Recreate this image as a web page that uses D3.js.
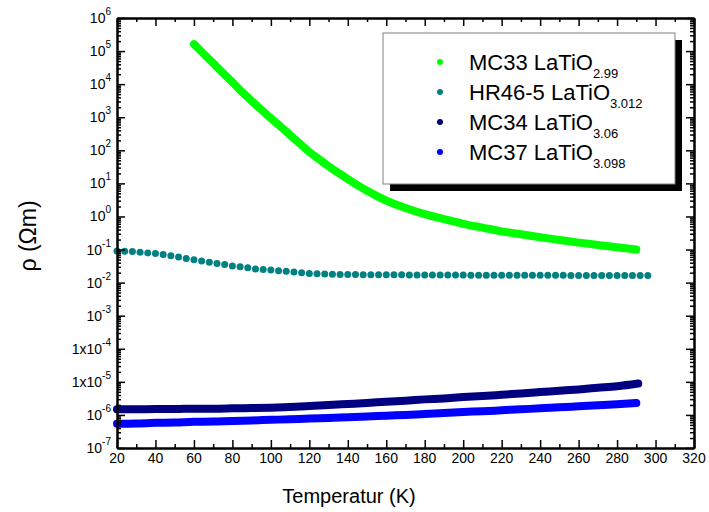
<!DOCTYPE html>
<html><head><meta charset="utf-8">
<script src="https://cdn.jsdelivr.net/npm/d3@7"></script>
<style>body{margin:0;background:#fff}svg{display:block;font-family:Arial,"Liberation Sans",sans-serif}</style>
</head><body><svg id="c" width="709" height="512"></svg>
<script>
const mc33T = [60,65,70,75,80,85,90,95,100,105,110,115,120,125,130,135,140,145,150,155,160,165,170,180,190,200,210,220,230,240,250,260,270,280,290];
const mc33Rho = [1.62e5,8.3e4,4.3e4,2.2e4,1.15e4,5.8e3,3.1e3,1.7e3,930,525,290,160,89,54,33,21,13.5,8.9,6.0,4.2,3.0,2.3,1.8,1.17,0.83,0.60,0.46,0.355,0.29,0.235,0.195,0.162,0.138,0.117,0.100];

const hr46T = [20,24,28,32,36,40,44,48,52,56,60,64,68,72,76,80,84,88,92,96,100,104,108,112,116,120,124,128,132,136,140,144,148,152,156,160,164,168,172,176,180,184,188,192,196,200,204,208,212,216,220,224,228,232,236,240,244,248,252,256,260,264,268,272,276,280,284,288,292,296];
const hr46Rho = [0.091,0.089,0.087,0.083,0.079,0.076,0.071,0.065,0.059,0.054,0.049,0.045,0.041,0.038,0.035,0.032,0.030,0.028,0.026,0.025,0.024,0.023,0.022,0.021,0.020,0.019,0.0186,0.0182,0.0178,0.0177,0.0175,0.0175,0.0174,0.0174,0.0173,0.0173,0.0172,0.0172,0.0171,0.0171,0.0170,0.0170,0.0170,0.0169,0.0169,0.0169,0.0168,0.0168,0.0168,0.0168,0.0167,0.0167,0.0167,0.0167,0.0166,0.0166,0.0166,0.0166,0.0166,0.0165,0.0165,0.0165,0.0165,0.0165,0.0165,0.0165,0.0165,0.0165,0.0165,0.0165];

const mc34T = [20,30,40,50,60,70,80,90,100,110,120,130,140,150,160,170,180,190,200,210,220,230,240,250,260,270,280,291];
const mc34Rho = [1.48e-6,1.48e-6,1.51e-6,1.51e-6,1.55e-6,1.55e-6,1.58e-6,1.62e-6,1.66e-6,1.74e-6,1.86e-6,2.0e-6,2.14e-6,2.29e-6,2.51e-6,2.69e-6,2.95e-6,3.16e-6,3.47e-6,3.72e-6,4.07e-6,4.47e-6,4.9e-6,5.37e-6,5.89e-6,6.6e-6,7.4e-6,8.9e-6];

const mc37T = [20,30,40,50,60,70,80,90,100,110,120,130,140,150,160,170,180,190,200,210,220,230,240,250,260,270,280,290];
const mc37Rho = [5.4e-7,5.5e-7,5.75e-7,5.9e-7,6.2e-7,6.3e-7,6.6e-7,6.8e-7,7.1e-7,7.4e-7,7.8e-7,8.1e-7,8.5e-7,8.9e-7,9.5e-7,1.0e-6,1.07e-6,1.15e-6,1.23e-6,1.29e-6,1.38e-6,1.48e-6,1.58e-6,1.70e-6,1.82e-6,1.95e-6,2.09e-6,2.29e-6];

const xTicks = [20,40,60,80,100,120,140,160,180,200,220,240,260,280,300,320];
const xMinor = [30,50,70,90,110,130,150,170,190,210,230,250,270,290,310];
const yExps = [6,5,4,3,2,1,0,-1,-2,-3,-4,-5,-6,-7];
const yPrefix = ["10","10","10","10","10","10","10","10","10","10","1x10","1x10","10","10"];

const legendNames = ["MC33 LaTiO","HR46-5 LaTiO","MC34 LaTiO","MC37 LaTiO"];
const legendSubs = ["2.99","3.012","3.06","3.098"];
const colors = ["#00ff00","#008080","#000080","#0000ff"];

const L=117,R=694,T=18,B=448;
const x = d3.scaleLinear().domain([20,320]).range([L,R]);
const y = d3.scaleLog().domain([1e-7,1e6]).range([B,T]);
const svg = d3.select("#c");

// data
const line = d3.line().x(d=>x(d[0])).y(d=>y(d[1])).curve(d3.curveMonotoneX);
const thick = [[mc33T,mc33Rho,0],[mc34T,mc34Rho,2],[mc37T,mc37Rho,3]];
thick.forEach(([t,r,ci])=>{
  svg.append("path").datum(t.map((v,i)=>[v,r[i]]))
    .attr("d",line).attr("fill","none").attr("stroke",colors[ci])
    .attr("stroke-width",8).attr("stroke-linecap","round").attr("stroke-linejoin","round");
});
svg.append("g").selectAll("circle").data(hr46T.map((v,i)=>[v,hr46Rho[i]])).join("circle")
  .attr("cx",d=>x(d[0])).attr("cy",d=>y(d[1])).attr("r",3.5).attr("fill",colors[1]);

// axes
const majorY = yExps.map(e=>Math.pow(10,e));
const minorY = [];
for(let e=-7;e<6;e++) for(let k=2;k<10;k++) minorY.push(k*Math.pow(10,e));
function ax(gen, tx, ty){ const g=svg.append("g").attr("transform",`translate(${tx},${ty})`).call(gen);
  g.selectAll("text").remove(); g.select(".domain").attr("stroke-width",2); g.selectAll(".tick line").attr("stroke-width",1.5); return g;}
ax(d3.axisLeft(y).tickValues(majorY).tickSizeInner(-8).tickSizeOuter(0).tickFormat(""),L,0);
ax(d3.axisLeft(y).tickValues(minorY).tickSizeInner(-4).tickSizeOuter(0).tickFormat(""),L,0);
ax(d3.axisRight(y).tickValues(majorY).tickSizeInner(-8).tickSizeOuter(0).tickFormat(""),R,0);
ax(d3.axisRight(y).tickValues(minorY).tickSizeInner(-4).tickSizeOuter(0).tickFormat(""),R,0);
ax(d3.axisBottom(x).tickValues(xTicks).tickSizeInner(-8).tickSizeOuter(0).tickFormat(""),0,B);
ax(d3.axisBottom(x).tickValues(xMinor).tickSizeInner(-4).tickSizeOuter(0).tickFormat(""),0,B);
ax(d3.axisTop(x).tickValues(xTicks).tickSizeInner(-8).tickSizeOuter(0).tickFormat(""),0,T);
ax(d3.axisTop(x).tickValues(xMinor).tickSizeInner(-4).tickSizeOuter(0).tickFormat(""),0,T);

// x labels
svg.append("g").selectAll("text").data(xTicks).join("text")
  .attr("x",d=>x(d)).attr("y",B+15).attr("text-anchor","middle").attr("font-size",14).text(d=>d);
// y labels
yExps.forEach((e,i)=>{
  const t = svg.append("text").attr("x",L-6).attr("y",y(Math.pow(10,e))+5).attr("text-anchor","end").attr("font-size",14);
  t.append("tspan").text(yPrefix[i]);
  t.append("tspan").attr("font-size",10).attr("dy",-8).text(e);
});

// titles
svg.append("text").attr("x",349).attr("y",503).attr("text-anchor","middle").attr("font-size",20).text("Temperatur (K)");
svg.append("text").attr("transform","translate(36,236) rotate(-90)").attr("text-anchor","middle").attr("font-size",23).text("ρ (Ωm)");

// legend
const lg = svg.append("g");
lg.append("rect").attr("x",390).attr("y",40).attr("width",292).attr("height",151).attr("fill","#000");
lg.append("rect").attr("x",383).attr("y",33).attr("width",292).attr("height",151).attr("fill","#fff").attr("stroke","#808080").attr("stroke-width",1);
legendNames.forEach((n,i)=>{
  const yy = 62+30*i;
  lg.append("circle").attr("cx",440).attr("cy",yy).attr("r",3).attr("fill",colors[i]);
  const t = lg.append("text").attr("x",469).attr("y",yy+8).attr("font-size",22);
  t.append("tspan").text(n);
  t.append("tspan").attr("font-size",13).attr("dy",8).text(legendSubs[i]);
});
</script></body></html>
